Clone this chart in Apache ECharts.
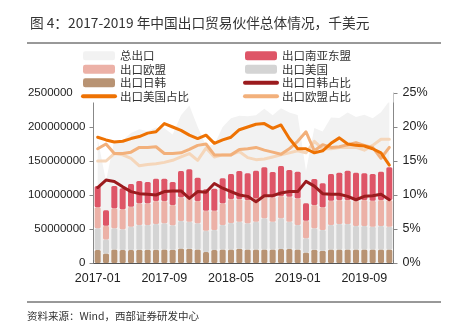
<!DOCTYPE html>
<html><head><meta charset="utf-8">
<script src="https://cdn.jsdelivr.net/npm/echarts@6/dist/echarts.min.js"></script>
<style>html,body{margin:0;padding:0;background:#fff}#c{width:450px;height:329px}</style>
</head><body><div id="c"></div>
<script>
// categories
const months = ['2017-01','2017-02','2017-03','2017-04','2017-05','2017-06','2017-07','2017-08','2017-09','2017-10','2017-11','2017-12',
  '2018-01','2018-02','2018-03','2018-04','2018-05','2018-06','2018-07','2018-08','2018-09','2018-10','2018-11','2018-12',
  '2019-01','2019-02','2019-03','2019-04','2019-05','2019-06','2019-07','2019-08','2019-09','2019-10','2019-11','2019-12'];
// values in millions of 千美元 (i.e. x 1,000,000)
const totalExport = [182.8,120.1,180.6,180.0,191.0,196.6,193.6,199.3,198.1,188.9,217.4,231.8,
  200.4,171.9,173.9,200.0,212.7,216.7,215.8,217.4,226.7,217.4,227.4,221.3,
  217.6,135.2,198.7,193.5,213.8,213.2,221.5,214.8,218.1,212.9,221.7,238.3];
const exportJapanKorea = [19,14,20,19,19,19.5,19.5,19.5,20,19.5,21.5,21,
  20,16,19,20,20,21,20,20,20,20,20.5,20.5,
  20,15.5,19.5,18,20,20,20,20,20,20,20,20];
const exportUS = [32,20.5,31,30.6,34.4,36.4,36.4,37.9,38.4,36,40.3,39.7,
  38.4,31.5,29.5,35.9,39,39.7,38.4,40.7,45.7,40.7,45.2,40.2,
  35.9,20.8,31.5,30.5,35.9,37.4,37.4,34.4,34.4,33.4,34.4,33.4];
const exportEU = [30.9,20.4,29.4,29.4,29.4,31.9,31.9,33.8,32.8,29.8,34.8,36.8,
  32.8,29.4,28.4,31.9,35.0,33.4,34.2,34.4,31.8,35.9,32.8,36.8,
  39.2,25.9,34.3,33.4,35.7,35.2,35.2,37.2,38.2,38.2,38.2,39.2];
const exportASEAN = [31.3,22.5,32.8,30.9,33.4,32.8,31.3,32.8,32.8,33.8,38.7,40.3,
  34.2,31.5,32.4,36.8,36.9,41.2,39.3,40.6,43.2,37.2,44.1,39.3,
  39.2,25.6,38.2,35.3,39.3,40.2,43.1,41.2,39.3,39.3,41.7,48.1];
// shares in %
const shareJapanKorea = [11.1,12.2,12.0,11.2,10.5,10.2,10.1,10.0,10.5,10.6,10.6,9.5,
  10.5,10.4,11.7,11.0,10.5,10.0,9.8,9.0,9.9,9.9,10.3,10.5,
  10.5,12.0,11.3,10.2,10.1,10.1,9.8,9.3,9.8,9.9,10.1,9.3];
const shareUS = [18.5,18.1,17.8,17.9,18.3,18.6,19.1,19.3,20.5,20.0,19.5,18.8,
  18.3,18.8,17.6,18.1,18.5,19.6,20.0,20.4,20.5,19.8,20.3,18.3,
  16.8,16.8,16.2,16.5,17.6,18.4,17.5,17.3,17.2,16.8,16.2,14.4];
const shareEU = [16.8,17.5,16.1,16.1,16.3,17.0,17.0,17.1,16.1,16.1,16.2,16.7,
  17.3,17.5,15.9,15.9,15.9,16.7,16.8,17.0,16.6,16.3,16.0,16.8,
  17.9,19.3,16.5,17.4,17.0,17.1,17.4,17.7,17.3,17.0,15.4,17.0];
const shareOther = [15.0,15.0,16.1,15.9,15.4,14.3,14.5,14.6,14.8,15.1,15.6,16.1,
  15.1,16.9,15.6,15.9,15.9,16.4,15.5,15.2,15.3,15.6,15.9,16.2,
  16.5,16.2,17.9,16.8,16.8,17.0,17.0,17.0,16.6,17.3,18.2,18.2];
const leftTicks = {min:0, max:250, interval:50};
const rightTicks = {min:0, max:25, interval:5};

const cjk = '"Noto Sans CJK SC", sans-serif';
const lat = '"Liberation Sans", Arial, sans-serif';
const C = {total:'#F2F2F2', asean:'#DE5567', eu:'#ECB1A7', us:'#D4D4D4', jk:'#B89373',
  jkLine:'#9B1B1E', usLine:'#EE7203', euLine:'#F2B07B', other:'#F5D6BA'};

const chart = echarts.init(document.getElementById('c'));
const legendCommon = {orient:'vertical', itemGap:2, itemWidth:32, itemHeight:9, itemTextGap:4, padding:0,
  textStyle:{fontFamily:cjk, fontSize:11.5, color:'#333'}, selectedMode:false};
function lineItem(n, c){ return {name:n, lineStyle:{width:4, cap:'round', color:c}, itemStyle:{opacity:0, color:'rgba(0,0,0,0)', borderWidth:0}}; }
function rectItem(n){ return {name:n, icon:'roundRect'}; }
const barBase = {type:'bar', stack:'s', barWidth:6, itemStyle:{borderRadius:1.5}, z:2};
const lineBase = {type:'line', yAxisIndex:1, symbol:'none', smooth:false, z:3};
chart.setOption({
  animation:false,
  backgroundColor:'#fff',
  title:{text:'图 4：2017-2019 年中国出口贸易伙伴总体情况，千美元', left:25, top:11,
    textStyle:{fontFamily:cjk, fontSize:13.7, fontWeight:'normal', color:'#333'}},
  graphic:[
    {type:'line', shape:{x1:27,y1:43,x2:441,y2:43}, style:{stroke:'#333', lineWidth:1}},
    {type:'rect', shape:{x:73,y:45,width:320.5,height:57.5}, style:{fill:'#fff'}, z:3},
    {type:'line', shape:{x1:27,y1:302,x2:441,y2:302}, style:{stroke:'#333', lineWidth:1}},
    {type:'text', left:27, top:311, style:{text:'资料来源：Wind，西部证券研发中心', font:'10.5px "Noto Sans CJK SC", sans-serif', fill:'#333'}}
  ],
  legend:[
    Object.assign({left:81, top:50, data:[rectItem('总出口'), rectItem('出口欧盟'), rectItem('出口日韩'), lineItem('出口美国占比', C.usLine)]}, legendCommon),
    Object.assign({left:243, top:50, data:[rectItem('出口南亚东盟'), rectItem('出口美国'), lineItem('出口日韩占比', C.jkLine), lineItem('出口欧盟占比', C.euLine)]}, legendCommon)
  ],
  grid:{left:93.5, right:56.5, top:93, bottom:66},
  xAxis:{type:'category', data:months, boundaryGap:true,
    axisLine:{lineStyle:{color:'#555', width:1}},
    axisTick:{show:true, inside:true, interval:7, length:3, lineStyle:{color:'#777'}},
    axisLabel:{interval:7, fontFamily:lat, fontSize:12.5, color:'#222', margin:9}},
  yAxis:[
    {type:'value', min:leftTicks.min, max:leftTicks.max, interval:leftTicks.interval, splitLine:{show:false},
     axisLine:{show:true, lineStyle:{color:'#888'}}, axisTick:{show:true, length:4, lineStyle:{color:'#888'}},
     axisLabel:{fontFamily:lat, fontSize:11.5, color:'#222', margin:8, formatter:v=>String(Math.round(v*1e6))}},
    {type:'value', min:rightTicks.min, max:rightTicks.max, interval:rightTicks.interval, splitLine:{show:false},
     axisLine:{show:true, lineStyle:{color:'#888'}}, axisTick:{show:true, length:4, lineStyle:{color:'#888'}},
     axisLabel:{fontFamily:lat, fontSize:12.5, color:'#222', margin:9, formatter:'{value}%'}}
  ],
  series:[
    {name:'总出口', type:'line', data:totalExport, symbol:'none', lineStyle:{width:0}, itemStyle:{color:C.total},
     areaStyle:{color:C.total, opacity:1}, z:1},
    Object.assign({name:'出口日韩', data:exportJapanKorea, color:C.jk}, barBase),
    Object.assign({name:'出口美国', data:exportUS, color:C.us}, barBase),
    Object.assign({name:'出口欧盟', data:exportEU, color:C.eu}, barBase),
    Object.assign({name:'出口南亚东盟', data:exportASEAN, color:C.asean}, barBase),
    Object.assign({name:'出口南亚东盟占比', data:shareOther, color:C.other, lineStyle:{width:3, color:C.other, cap:'round', join:'round'}}, lineBase),
    Object.assign({name:'出口欧盟占比', data:shareEU, color:C.euLine, lineStyle:{width:3, color:C.euLine, cap:'round', join:'round'}}, lineBase),
    Object.assign({name:'出口美国占比', data:shareUS, color:C.usLine, lineStyle:{width:3, color:C.usLine, cap:'round', join:'round'}}, lineBase),
    Object.assign({name:'出口日韩占比', data:shareJapanKorea, color:C.jkLine, lineStyle:{width:3, color:C.jkLine, cap:'round', join:'round'}}, lineBase)
  ]
});
</script></body></html>
